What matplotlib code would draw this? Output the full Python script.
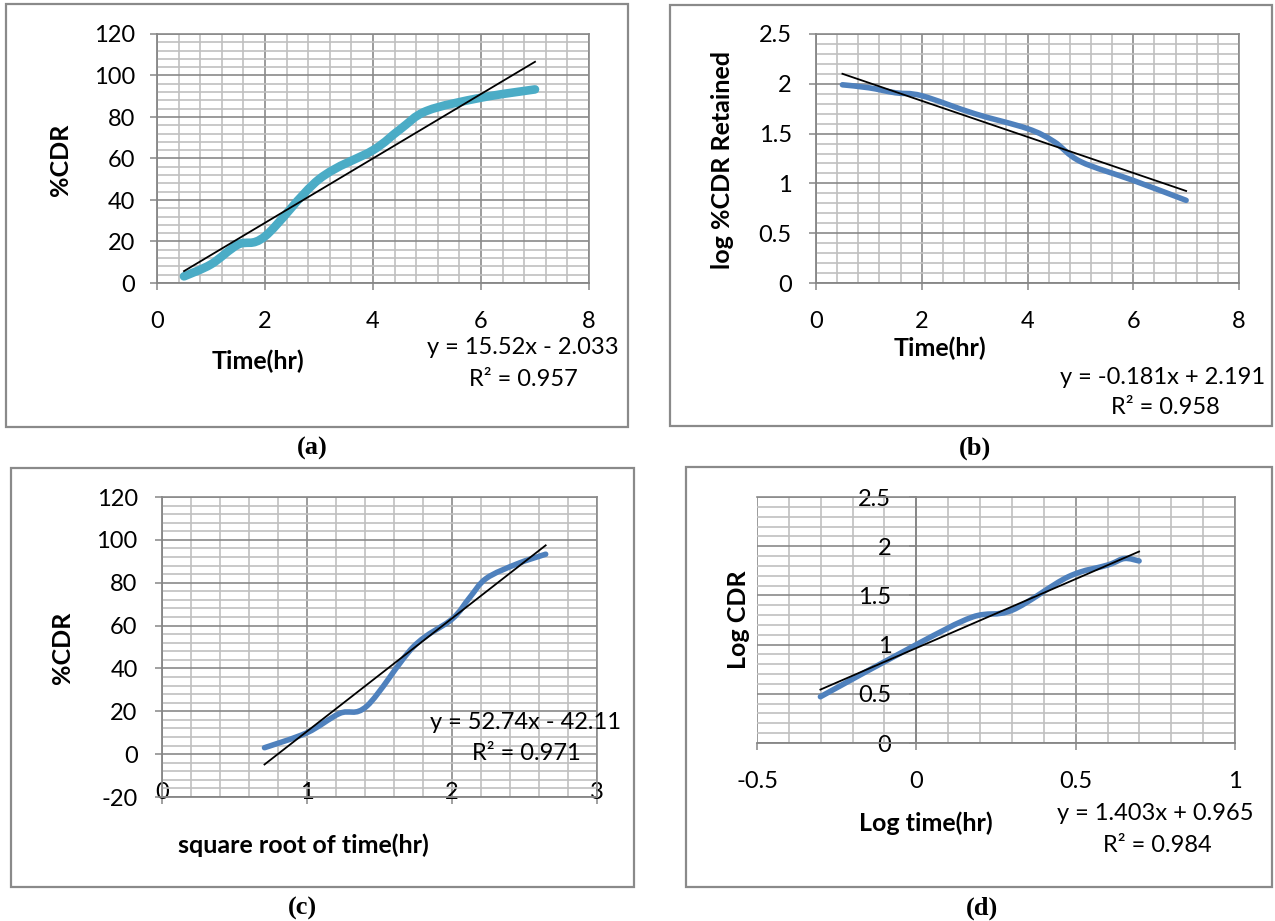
import numpy as np
import matplotlib
matplotlib.use("Agg")
import matplotlib.pyplot as plt
from matplotlib.path import Path
from matplotlib.patches import PathPatch, Rectangle
from matplotlib.ticker import MultipleLocator, FixedLocator

plt.rcParams['font.family'] = ['Lato', 'DejaVu Sans']

# ---------------- data ----------------
# (a) zero order: time vs %CDR
a_time = [0.5, 1, 1.5, 2, 3, 4, 4.5, 5, 6, 7]
a_cdr = [3.2, 9.0, 18.5, 22.5, 50.0, 64.0, 74.0, 83.0, 89.3, 93.3]
a_fit = (15.52, -2.033)
a_eq = "y = 15.52x - 2.033"
a_r2 = "R\u00b2 = 0.957"

# (b) first order: time vs log %CDR retained
b_time = [0.5, 1, 1.5, 2, 3, 4, 4.5, 5, 6, 7]
b_logret = [1.99, 1.96, 1.91, 1.88, 1.70, 1.55, 1.42, 1.22, 1.03, 0.83]
b_fit = (-0.181, 2.191)
b_eq = "y = -0.181x + 2.191"
b_r2 = "R\u00b2 = 0.958"

# (c) Higuchi: sqrt time vs %CDR
c_sqrt = [0.707, 1.0, 1.225, 1.414, 1.732, 2.0, 2.121, 2.236, 2.449, 2.646]
c_cdr = [3.0, 10.0, 19.0, 22.5, 50.0, 63.0, 73.0, 82.0, 88.8, 93.3]
c_fit = (52.74, -42.11)
c_eq = "y = 52.74x - 42.11"
c_r2 = "R\u00b2 = 0.971"

# (d) Korsmeyer-Peppas: log time vs log CDR
d_logt = [-0.301, 0.0, 0.176, 0.301, 0.477, 0.602, 0.653, 0.699]
d_logcdr = [0.47, 1.0, 1.28, 1.35, 1.69, 1.81, 1.875, 1.85]
d_fit = (1.403, 0.965)
d_eq = "y = 1.403x + 0.965"
d_r2 = "R\u00b2 = 0.984"

# tick labels
a_xticks, a_xlabels = [0, 2, 4, 6, 8], ['0', '2', '4', '6', '8']
a_yticks, a_ylabels = [0, 20, 40, 60, 80, 100, 120], ['0', '20', '40', '60', '80', '100', '120']
b_xticks, b_xlabels = [0, 2, 4, 6, 8], ['0', '2', '4', '6', '8']
b_yticks, b_ylabels = [0, 0.5, 1, 1.5, 2, 2.5], ['0', '0.5', '1', '1.5', '2', '2.5']
c_xticks, c_xlabels = [0, 1, 2, 3], ['0', '1', '2', '3']
c_yticks, c_ylabels = [-20, 0, 20, 40, 60, 80, 100, 120], ['-20', '0', '20', '40', '60', '80', '100', '120']
d_xticks, d_xlabels = [-0.5, 0, 0.5, 1], ['-0.5', '0', '0.5', '1']
d_yticks, d_ylabels = [0, 0.5, 1, 1.5, 2, 2.5], ['0', '0.5', '1', '1.5', '2', '2.5']

# ---------------- style ----------------
AQUA = '#4BACC6'
BLUE = '#4F81BD'
MAJ = '#8a8a8a'
MIN = '#c0c0c0'
SPINE = '#868686'
TICKFS = 17
EQFS = 17
LABFS = 18


def smooth_path(x, y):
    pts = np.column_stack([x, y]).astype(float)
    n = len(pts)
    verts = [pts[0]]
    codes = [Path.MOVETO]
    for i in range(n - 1):
        p0 = pts[i - 1] if i > 0 else pts[i]
        p1 = pts[i]
        p2 = pts[i + 1]
        p3 = pts[i + 2] if i + 2 < n else pts[i + 1]
        c1 = p1 + (p2 - p0) / 6.0
        c2 = p2 - (p3 - p1) / 6.0
        verts += [c1, c2, p2]
        codes += [Path.CURVE4] * 3
    return Path(verts, codes)


def setup(ax, xlim, ylim, xt, xl, yt, yl, xminor, yminor, xpad, ypad):
    ax.set_xlim(*xlim)
    ax.set_ylim(*ylim)
    ax.xaxis.set_major_locator(FixedLocator(xt))
    ax.yaxis.set_major_locator(FixedLocator(yt))
    ax.set_xticklabels(xl)
    ax.set_yticklabels(yl)
    ax.xaxis.set_minor_locator(MultipleLocator(xminor))
    ax.yaxis.set_minor_locator(MultipleLocator(yminor))
    ax.set_axisbelow(True)
    ax.grid(which='minor', color=MIN, lw=1.2)
    ax.grid(which='major', color=MAJ, lw=1.2)
    ax.tick_params(which='minor', length=0)
    ax.tick_params(which='major', direction='out', length=5, width=1.1,
                   color=SPINE, labelsize=TICKFS)
    ax.tick_params(axis='x', pad=xpad)
    ax.tick_params(axis='y', pad=ypad)
    for s in ['left', 'bottom']:
        ax.spines[s].set_color(SPINE)
        ax.spines[s].set_linewidth(1.3)
    for s in ['top', 'right']:
        ax.spines[s].set_color(MAJ)
        ax.spines[s].set_linewidth(1.2)


def draw(ax, x, y, color, lw, fit):
    p = PathPatch(smooth_path(x, y), fill=False, edgecolor=color, lw=lw,
                  capstyle='round', joinstyle='round', zorder=3)
    ax.add_patch(p)
    xs = np.array([x[0], x[-1]], dtype=float)
    ax.plot(xs, fit[0] * xs + fit[1], color='black', lw=1.3, zorder=4)


W, H = 1275, 921
fig = plt.figure(figsize=(W / 100, H / 100), dpi=100)


def axes_px(x0, x1, ytop, ybot):
    return fig.add_axes([x0 / W, 1 - ybot / H, (x1 - x0) / W, (ybot - ytop) / H])


def ftext(x, y, s, **kw):
    fig.text(x / W, 1 - y / H, s, ha='center', va='center', **kw)


# panel borders
for (x0, x1, y0, y1) in [(6, 628, 4, 427), (670, 1272, 5, 426),
                         (11, 634, 468, 887), (686, 1272, 467, 887)]:
    fig.add_artist(Rectangle((x0 / W, 1 - y1 / H), (x1 - x0) / W, (y1 - y0) / H,
                             transform=fig.transFigure, fill=False,
                             edgecolor='#8a8a8a', lw=1.6))

# (a)
ax = axes_px(157, 589, 34, 283)
setup(ax, (0, 8), (0, 120), a_xticks, a_xlabels, a_yticks, a_ylabels, 0.4, 4, 15, 11)
draw(ax, a_time, a_cdr, AQUA, 6.2, a_fit)
ax.set_xlabel('Time(hr)', fontsize=LABFS, fontweight='bold', va='center')
ax.xaxis.set_label_coords(0.234, -0.313)
ax.set_ylabel('%CDR', fontsize=LABFS, fontweight='bold', va='center')
ax.yaxis.set_label_coords(-0.2245, 0.494)
ftext(523, 348, a_eq, fontsize=EQFS)
ftext(523, 380, a_r2, fontsize=EQFS)

# (b)
ax = axes_px(816, 1239, 34, 283)
setup(ax, (0, 8), (0, 2.5), b_xticks, b_xlabels, b_yticks, b_ylabels, 0.4, 0.1, 15, 12.5)
draw(ax, b_time, b_logret, BLUE, 4.0, b_fit)
ax.set_xlabel('Time(hr)', fontsize=LABFS, fontweight='bold', va='center')
ax.xaxis.set_label_coords(0.293, -0.262)
ax.set_ylabel('log %CDR Retained', fontsize=LABFS, fontweight='bold', va='center')
ax.yaxis.set_label_coords(-0.22, 0.494)
ftext(1163, 377, b_eq, fontsize=EQFS)
ftext(1165, 407, b_r2, fontsize=EQFS)

# (c)
ax = axes_px(162, 597, 497, 797)
setup(ax, (0, 3), (-20, 120), c_xticks, c_xlabels, c_yticks, c_ylabels, 0.2, 4, -15.5, 12.5)
draw(ax, c_sqrt, c_cdr, BLUE, 4.0, c_fit)
ax.set_xlabel('square root of time(hr)', fontsize=LABFS, fontweight='bold', va='center')
ax.xaxis.set_label_coords(0.326, -0.16)
ax.set_ylabel('%CDR', fontsize=LABFS, fontweight='bold', va='center')
ax.yaxis.set_label_coords(-0.2276, 0.497)
ftext(525, 722, c_eq, fontsize=EQFS)
ftext(526, 753, c_r2, fontsize=EQFS)

# (d)
ax = axes_px(757, 1235, 497, 743)
setup(ax, (-0.5, 1), (0, 2.5), d_xticks, d_xlabels, d_yticks, d_ylabels, 0.1, 0.1, 15.5, 13)
ax.spines['left'].set_position(('data', 0))
draw(ax, d_logt, d_logcdr, BLUE, 4.0, d_fit)
ax.set_xlabel('Log time(hr)', fontsize=LABFS, fontweight='bold', va='center')
ax.xaxis.set_label_coords(0.354, -0.325)
ax.set_ylabel('Log CDR', fontsize=LABFS, fontweight='bold', va='center')
ax.yaxis.set_label_coords(-0.0397, 0.5)
ftext(1155, 813, d_eq, fontsize=EQFS)
ftext(1157, 845, d_r2, fontsize=EQFS)

# captions
for (x, y, s) in [(312, 448, '(a)'), (975, 448, '(b)'), (302, 908, '(c)'), (982, 908, '(d)')]:
    fig.text(x / W, 1 - y / H, s, ha='center', va='center', fontsize=19,
             fontweight='bold', family='Liberation Serif')

fig.savefig('out.png', dpi=100)
